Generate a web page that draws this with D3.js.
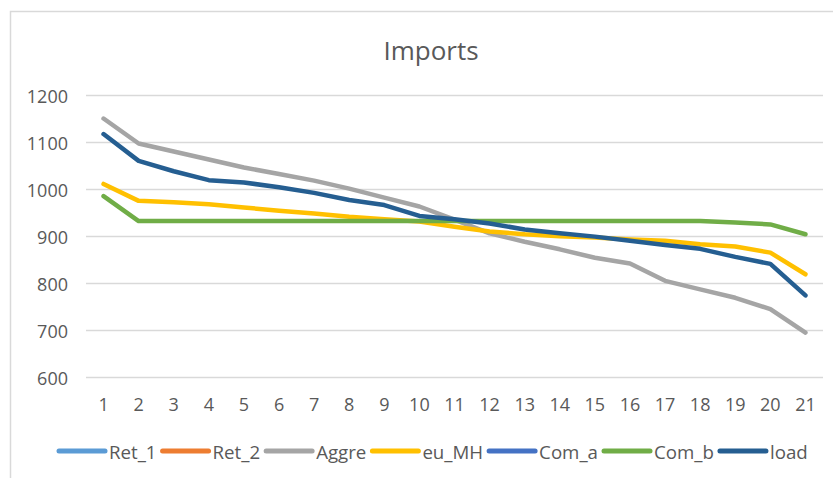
<!DOCTYPE html>
<html>
<head>
<meta charset="utf-8">
<script src="https://cdn.jsdelivr.net/npm/d3@7.9.0/dist/d3.min.js"></script>
<style>
  body { margin: 0; background: #fff; }
  svg { display: block; font-family: "Open Sans", sans-serif; }
</style>
</head>
<body>
<svg id="chart" width="833" height="478"></svg>
<script>
// data
const categories = d3.range(1, 22);
const seriesNames = ['Ret_1', 'Ret_2', 'Aggre', 'eu_MH', 'Com_a', 'Com_b', 'load'];
const seriesColors = ['#5B9BD5', '#ED7D31', '#A5A5A5', '#FFC000', '#4472C4', '#70AD47', '#255E91'];

const ret1 = [];
const ret2 = [];
const aggre = [1150, 1097, 1080, 1063, 1046, 1032, 1018, 1001, 982, 963, 935, 906, 888, 872, 854, 842, 805, 787, 769, 745, 695];
const euMH = [1011, 975, 972, 968, 961, 954, 948, 941, 936, 931, 920, 910, 904, 900, 897, 893, 890, 883, 878, 865, 819];
const comA = [];
const comB = [985, 932, 932, 932, 932, 932, 932, 932, 932, 932, 932, 932, 932, 932, 932, 932, 932, 932, 929, 925, 904];
const load = [1117, 1060, 1038, 1019, 1014, 1004, 992, 977, 966, 943, 936, 927, 914, 906, 899, 890, 881, 873, 856, 841, 774];

const yTicks = [600, 700, 800, 900, 1000, 1100, 1200];

const seriesValues = [ret1, ret2, aggre, euMH, comA, comB, load];

const svg = d3.select('#chart');

// outer chart border
svg.append('rect')
  .attr('x', 10.5).attr('y', 11.5)
  .attr('width', 840).attr('height', 480)
  .attr('fill', 'none')
  .attr('stroke', '#D9D9D9')
  .attr('stroke-width', 1.5);

const x = d3.scalePoint().domain(categories).range([86, 823]).padding(0.5);
const y = d3.scaleLinear().domain([600, 1200]).range([377.3, 95]);

// gridlines
svg.append('g')
  .selectAll('line')
  .data(yTicks)
  .join('line')
  .attr('x1', 86).attr('x2', 823)
  .attr('y1', (d) => Math.round(y(d)) + 0.5)
  .attr('y2', (d) => Math.round(y(d)) + 0.5)
  .attr('stroke', '#D9D9D9')
  .attr('stroke-width', 1.3);

// y labels
svg.append('g')
  .selectAll('text')
  .data(yTicks)
  .join('text')
  .attr('x', 68)
  .attr('y', (d) => y(d) + 1)
  .attr('text-anchor', 'end')
  .attr('dominant-baseline', 'central')
  .attr('font-size', 18)
  .attr('fill', '#595959')
  .text((d) => d);

// x labels
svg.append('g')
  .selectAll('text')
  .data(categories)
  .join('text')
  .attr('x', (d) => x(d))
  .attr('y', 404)
  .attr('text-anchor', 'middle')
  .attr('dominant-baseline', 'central')
  .attr('font-size', 18)
  .attr('fill', '#595959')
  .text((d) => d);

// title
svg.append('text')
  .attr('x', 431)
  .attr('y', 50)
  .attr('text-anchor', 'middle')
  .attr('dominant-baseline', 'central')
  .attr('font-size', 26)
  .attr('fill', '#595959')
  .text('Imports');

// lines
const line = d3.line()
  .x((d, i) => x(categories[i]))
  .y((d) => y(d));

seriesValues.forEach((vals, idx) => {
  if (!vals.length) return;
  svg.append('path')
    .datum(vals)
    .attr('d', line)
    .attr('fill', 'none')
    .attr('stroke', seriesColors[idx])
    .attr('stroke-width', 4.5)
    .attr('stroke-linejoin', 'round')
    .attr('stroke-linecap', 'round');
});

// legend
const legend = svg.append('g');
let lx = 59;
const ly = 451;
seriesNames.forEach((name, idx) => {
  legend.append('line')
    .attr('x1', lx).attr('x2', lx + 46)
    .attr('y1', ly).attr('y2', ly)
    .attr('stroke', seriesColors[idx])
    .attr('stroke-width', 5)
    .attr('stroke-linecap', 'round');
  const t = legend.append('text')
    .attr('x', lx + 50)
    .attr('y', ly)
    .attr('dominant-baseline', 'central')
    .attr('font-size', 18.7)
    .attr('fill', '#595959')
    .text(name);
  lx += 50 + t.node().getComputedTextLength() + 6;
});
</script>
</body>
</html>
